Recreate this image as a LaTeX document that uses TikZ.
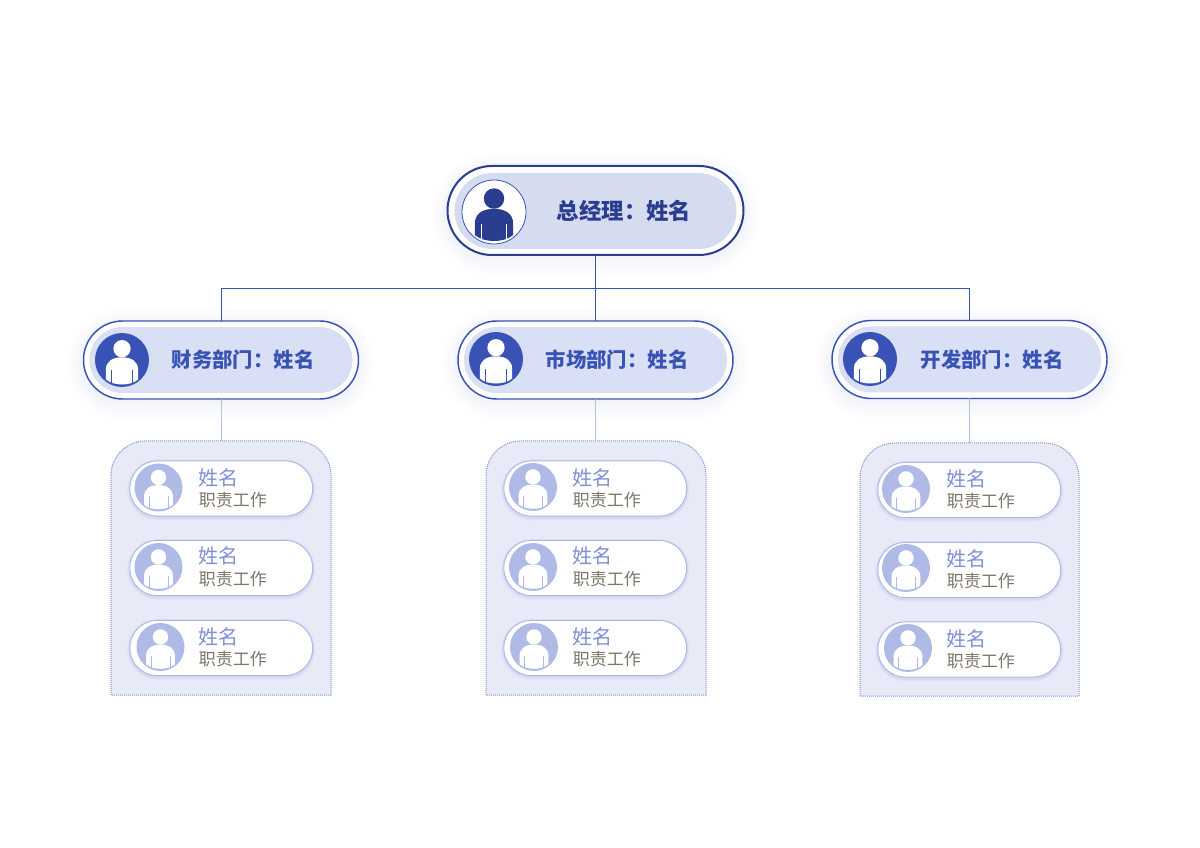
\documentclass[tikz,border=0pt]{standalone}
\usepackage{fontspec}
\setmainfont{Noto Sans CJK SC}
\usetikzlibrary{shapes.misc}
\definecolor{chiefblue}{HTML}{2A3D8F}
\definecolor{deptblue}{HTML}{3853B5}
\definecolor{chieffill}{HTML}{D6DCEF}
\definecolor{deptfill}{HTML}{D9DFF4}
\definecolor{panelfill}{HTML}{E8EAF8}
\definecolor{paneldots}{HTML}{8090E0}
\definecolor{facefill}{HTML}{AFBBE6}
\definecolor{cardline}{HTML}{AAB8E6}
\definecolor{stemline}{HTML}{B4BFE2}
\definecolor{namecolor}{HTML}{7F8FD8}
\definecolor{dutycolor}{HTML}{7C7568}
\tikzset{
  softglow/.style={
    preaction={draw=deptblue,draw opacity=.012,line width=24pt,transform canvas={yshift=-3pt}},
    preaction={draw=deptblue,draw opacity=.014,line width=17pt,transform canvas={yshift=-3pt}},
    preaction={draw=deptblue,draw opacity=.016,line width=11pt,transform canvas={yshift=-3pt}},
    preaction={draw=deptblue,draw opacity=.018,line width=6pt,transform canvas={yshift=-2pt}}},
  cardglow/.style={
    preaction={draw=deptblue,draw opacity=.05,line width=4pt,transform canvas={yshift=-1pt}},
    preaction={draw=deptblue,draw opacity=.05,line width=2pt,transform canvas={yshift=-1pt}}},
  pill/.style={rounded rectangle,inner sep=0pt,outer sep=0pt},
  ceobox/.style={pill,draw=chiefblue,fill=white,line width=1.5pt,softglow,minimum width=222pt,minimum height=66.75pt},
  ceoinner/.style={pill,fill=chieffill,minimum width=211.5pt,minimum height=57pt},
  deptbox/.style={pill,draw=deptblue,fill=white,line width=1.1pt,softglow,minimum width=206.25pt,minimum height=58.5pt},
  deptinner/.style={pill,fill=deptfill,minimum width=197.25pt,minimum height=49.5pt},
  cardbox/.style={pill,draw=cardline,fill=white,line width=.7pt,cardglow,minimum width=137.25pt,minimum height=41.5pt},
  ceoface/.style={circle,draw=deptblue,fill=white,line width=.6pt,inner sep=0pt,minimum size=48pt},
  deptface/.style={circle,fill=deptblue,inner sep=0pt,minimum size=40.5pt},
  cardface/.style={circle,fill=facefill,inner sep=0pt,minimum size=36pt},
  ceotext/.style={text=chiefblue,font=\fontsize{16.8pt}{18pt}\selectfont\bfseries,inner sep=0pt},
  depttext/.style={text=deptblue,font=\fontsize{15.3pt}{17pt}\selectfont\bfseries,inner sep=0pt},
  nametext/.style={anchor=west,text=namecolor,font=\fontsize{15pt}{17pt}\selectfont,inner sep=0pt},
  dutytext/.style={anchor=west,text=dutycolor,font=\fontsize{12.75pt}{15pt}\selectfont,inner sep=0pt},
  panelbox/.style={draw=paneldots,fill=panelfill,line width=.75pt,dash pattern=on .75pt off .75pt},
  busline/.style={draw=deptblue,line width=.75pt},
  stemline/.style={draw=stemline,line width=.75pt},
  person/.pic={
    \fill [pic actions] (0,-.42) circle (.32);
    \fill [pic actions] (-.6,.72) -- (-.6,.37) .. controls (-.6,.05) and (-.35,-.1) .. (0,-.1)
      .. controls (.35,-.1) and (.6,.05) .. (.6,.37) -- (.6,.72)
      .. controls (.3,.97) and (-.3,.97) .. cycle;
  },
  slits/.pic={
    \draw [pic actions,line width=.4pt] (-.39,.37) -- (-.39,.9);
    \draw [pic actions,line width=.4pt] (.39,.37) -- (.39,.9);
  }
}
\begin{document}
\begin{tikzpicture}[x=.75pt,y=-.75pt]
    \useasboundingbox (0,0) rectangle (1200,848);
    % panels first, they sit behind the cards
    \draw [panelbox] (111,695) [rounded corners=26pt] -- (111,441) -- (331,441) -- (331,560) [sharp corners] -- (331,695) -- cycle;
    \draw [panelbox] (486,695) [rounded corners=26pt] -- (486,441) -- (706,441) -- (706,560) [sharp corners] -- (706,695) -- cycle;
    \draw [panelbox] (860,696) [rounded corners=26pt] -- (860,443) -- (1079,443) -- (1079,560) [sharp corners] -- (1079,696) -- cycle;
    \coordinate (finpanel) at (221.5,441);
    \coordinate (mktpanel) at (595.5,441);
    \coordinate (devpanel) at (969.5,443);
    \coordinate (busmid) at (595.5,288.7);
    % top level
    \node [ceobox] (ceo) at (595.5,210.5) {};
    \node [ceoinner] (ceofill) at (595.5,211) {};
    \node [ceoface] (ceoicon) at (494,212) {};
    \pic [fill=chiefblue,scale=32] at (ceoicon) {person};
    \pic [draw=white,scale=32] at (ceoicon) {slits};
    \node [ceotext] (ceolabel) at (624,211) {总经理：姓名};
    % departments
    \node [deptbox] (fin) at (221,360) {};
    \node [deptinner] (finfill) at (221,360) {};
    \node [deptface] (finicon) at (122,360) {};
    \pic [fill=white,scale=27] at (finicon) {person};
    \pic [draw=deptblue,scale=27] at (finicon) {slits};
    \node [depttext] (finlabel) at (243,360) {财务部门：姓名};
    \node [deptbox] (mkt) at (595.5,360) {};
    \node [deptinner] (mktfill) at (595.5,360) {};
    \node [deptface] (mkticon) at (496,359) {};
    \pic [fill=white,scale=27] at (mkticon) {person};
    \pic [draw=deptblue,scale=27] at (mkticon) {slits};
    \node [depttext] (mktlabel) at (617,360) {市场部门：姓名};
    \node [deptbox] (dev) at (969.5,359.5) {};
    \node [deptinner] (devfill) at (969.5,359.5) {};
    \node [deptface] (devicon) at (870,359) {};
    \pic [fill=white,scale=27] at (devicon) {person};
    \pic [draw=deptblue,scale=27] at (devicon) {slits};
    \node [depttext] (devlabel) at (992,360) {开发部门：姓名};
    % connectors
    \draw [busline,line width=1.2pt] (ceo.south) -- (busmid);
    \draw [busline] (busmid) -- (mkt.north);
    \draw [busline] (finpanel |- fin.north) |- (busmid) -| (dev.north);
    \draw [stemline] (finpanel |- fin.south) -- (finpanel);
    \draw [stemline] (mkt.south) -- (mktpanel);
    \draw [stemline] (dev.south) -- (devpanel);
    % finance cards
    \node [cardbox] (fina) at (221.25,488.5) {};
    \node [cardface] (finaicon) at (158.5,487.5) {};
    \pic [fill=white,scale=24] at (finaicon) {person};
    \pic [draw=facefill,scale=24] at (finaicon) {slits};
    \node [nametext] (finaname) at (198.5,478) {姓名};
    \node [dutytext] (finaduty) at (198.5,499.7) {职责工作};
    \node [cardbox] (finb) at (221.25,568) {};
    \node [cardface] (finbicon) at (158.5,567) {};
    \pic [fill=white,scale=24] at (finbicon) {person};
    \pic [draw=facefill,scale=24] at (finbicon) {slits};
    \node [nametext] (finbname) at (198.5,556) {姓名};
    \node [dutytext] (finbduty) at (198.5,578.7) {职责工作};
    \node [cardbox] (finc) at (221.25,648) {};
    \node [cardface] (fincicon) at (160.5,647) {};
    \pic [fill=white,scale=24] at (fincicon) {person};
    \pic [draw=facefill,scale=24] at (fincicon) {slits};
    \node [nametext] (fincname) at (198.5,637) {姓名};
    \node [dutytext] (fincduty) at (198.5,658.7) {职责工作};
    % market cards
    \node [cardbox] (mkta) at (595.25,488.5) {};
    \node [cardface] (mktaicon) at (533,487) {};
    \pic [fill=white,scale=24] at (mktaicon) {person};
    \pic [draw=facefill,scale=24] at (mktaicon) {slits};
    \node [nametext] (mktaname) at (572.5,478) {姓名};
    \node [dutytext] (mktaduty) at (572.5,499.7) {职责工作};
    \node [cardbox] (mktb) at (595.25,568) {};
    \node [cardface] (mktbicon) at (533,567) {};
    \pic [fill=white,scale=24] at (mktbicon) {person};
    \pic [draw=facefill,scale=24] at (mktbicon) {slits};
    \node [nametext] (mktbname) at (572.5,556) {姓名};
    \node [dutytext] (mktbduty) at (572.5,578.7) {职责工作};
    \node [cardbox] (mktc) at (595.25,648) {};
    \node [cardface] (mktcicon) at (534,647) {};
    \pic [fill=white,scale=24] at (mktcicon) {person};
    \pic [draw=facefill,scale=24] at (mktcicon) {slits};
    \node [nametext] (mktcname) at (572.5,637) {姓名};
    \node [dutytext] (mktcduty) at (572.5,658.7) {职责工作};
    % development cards
    \node [cardbox] (deva) at (969.25,490) {};
    \node [cardface] (devaicon) at (906,489) {};
    \pic [fill=white,scale=24] at (devaicon) {person};
    \pic [draw=facefill,scale=24] at (devaicon) {slits};
    \node [nametext] (devaname) at (946.5,479) {姓名};
    \node [dutytext] (devaduty) at (946.5,500.7) {职责工作};
    \node [cardbox] (devb) at (969.25,570) {};
    \node [cardface] (devbicon) at (906,568) {};
    \pic [fill=white,scale=24] at (devbicon) {person};
    \pic [draw=facefill,scale=24] at (devbicon) {slits};
    \node [nametext] (devbname) at (946.5,559) {姓名};
    \node [dutytext] (devbduty) at (946.5,580.7) {职责工作};
    \node [cardbox] (devc) at (969.25,649.5) {};
    \node [cardface] (devcicon) at (908,648) {};
    \pic [fill=white,scale=24] at (devcicon) {person};
    \pic [draw=facefill,scale=24] at (devcicon) {slits};
    \node [nametext] (devcname) at (946.5,639) {姓名};
    \node [dutytext] (devcduty) at (946.5,660.7) {职责工作};
\end{tikzpicture}
\end{document}
